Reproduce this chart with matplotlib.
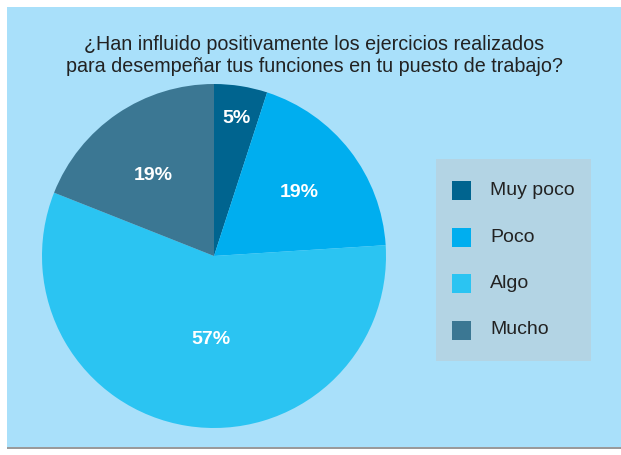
import numpy as np
import matplotlib.pyplot as plt
from matplotlib.patches import Rectangle

categories = ["Muy poco", "Poco", "Algo", "Mucho"]
values = [5, 19, 57, 19]
labels = ["5%", "19%", "57%", "19%"]
colors = ["#00648f", "#00aeef", "#2bc4f2", "#3b7793"]
label_r = [0.824, 0.628, 0.471, 0.599]
label_shift = [0, 0, 7, 2]  # degrees

W, H = 621, 455
fig = plt.figure(figsize=(W / 100, H / 100), dpi=100)
fig.patch.set_facecolor("white")
font = "Liberation Sans"

# background panel and bottom shadow line
fig.patches.append(Rectangle((7 / W, 1 - 447 / H), 1, 440 / H,
                             transform=fig.transFigure, facecolor="#a9e0fa",
                             edgecolor="none", zorder=0))
fig.patches.append(Rectangle((7 / W, 1 - 449 / H), 1, 2 / H,
                             transform=fig.transFigure, facecolor="#9a9a9a",
                             edgecolor="none", zorder=0))

fig.text(314 / W, 1 - 44 / H, "¿Han influido positivamente los ejercicios realizados",
         ha="center", va="center", fontsize=14.2, family=font, color="#222222")
fig.text(314 / W, 1 - 67 / H, "para desempeñar tus funciones en tu puesto de trabajo?",
         ha="center", va="center", fontsize=14.2, family=font, color="#222222")

# pie axes: center (214,256), radius 172 px
r = 172
ax = fig.add_axes([(214 - r) / W, 1 - (256 + r) / H, 2 * r / W, 2 * r / H])
ax.set_zorder(2)
wedges, _ = ax.pie(values, colors=colors, startangle=90, counterclock=False,
                   radius=1, wedgeprops=dict(linewidth=0))
ax.set_xlim(-1, 1)
ax.set_ylim(-1, 1)
ax.set_aspect("equal")
ax.axis("off")

for w, lab, lr, sh in zip(wedges, labels, label_r, label_shift):
    ang = np.deg2rad((w.theta1 + w.theta2) / 2 + sh)
    ax.text(lr * np.cos(ang), lr * np.sin(ang) - 7 / r, lab, ha="center",
            va="baseline", color="white", fontsize=14, fontweight="bold",
            family=font)

# legend box
fig.patches.append(Rectangle((436 / W, 1 - 361 / H), 155 / W, 202 / H,
                             transform=fig.transFigure, facecolor="#b3d4e4",
                             edgecolor="none", zorder=1))
ys = [190, 238, 283, 330]
for cat, col, y in zip(categories, colors, ys):
    fig.patches.append(Rectangle((452 / W, 1 - (y + 9.5) / H), 19 / W, 19 / H,
                                 transform=fig.transFigure, facecolor=col,
                                 edgecolor="none", zorder=2))
    fig.text(490 / W, 1 - y / H, cat, ha="left", va="center", fontsize=14,
             family=font, color="#222222", zorder=3)

fig.savefig("out.png", dpi=100)
